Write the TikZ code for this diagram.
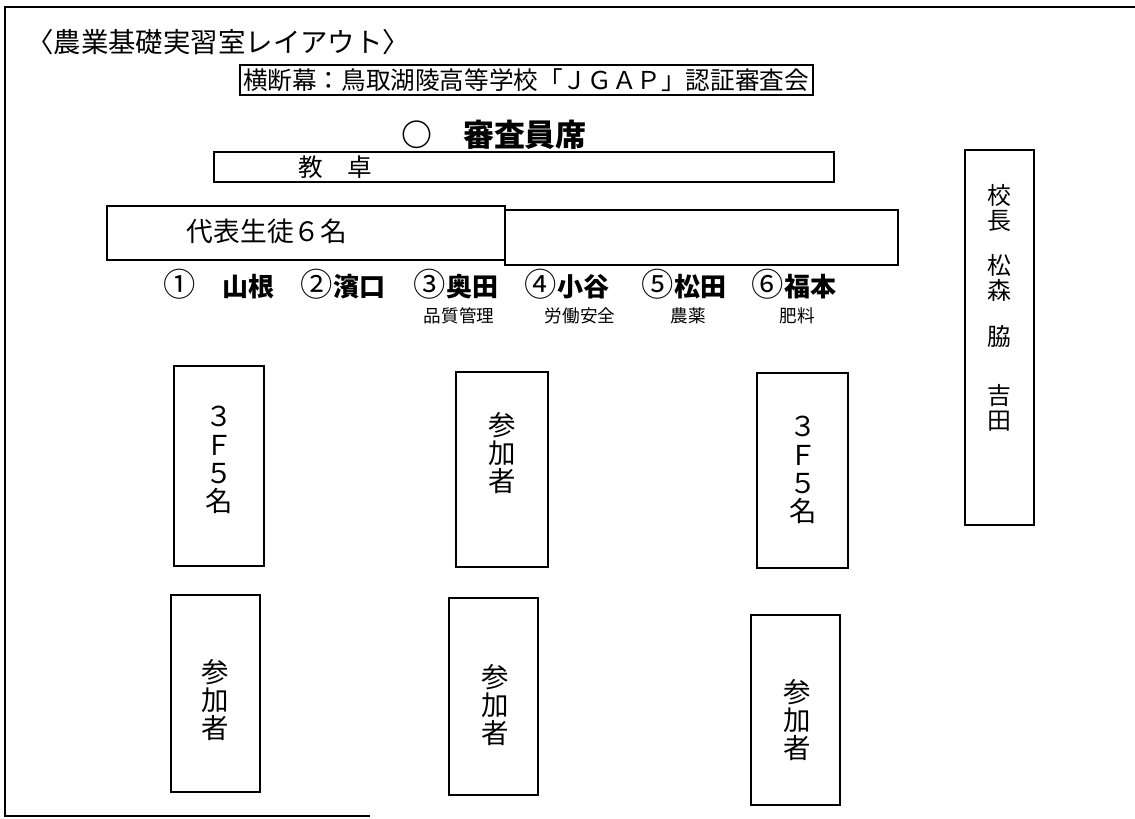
\documentclass[tikz,border=0pt]{standalone}
\usepackage{fontspec}
\setmainfont{Noto Sans CJK JP}
\newcommand{\cnum}[1]{{\mdseries\fontsize{23}{20}\selectfont #1}}
\begin{document}
\begin{tikzpicture}[x=0.025cm,y=-0.025cm,
  seatbox/.style={draw,line width=1pt},
  vtext/.style={align=center,inner sep=0pt,font=\fontsize{19.5}{20}\selectfont},
  person/.style={inner sep=0pt,font=\fontsize{18.5}{20}\selectfont\bfseries},
  role/.style={inner sep=0pt,font=\fontsize{12.5}{14}\selectfont},
  staff/.style={align=center,inner sep=0pt,font=\fontsize{17}{17.5}\selectfont}]
\useasboundingbox (0,0) rectangle (1135,818);

% room frame
\draw[line width=1.2pt] (1135,7) -- (5,7) -- (5,816) -- (370,816);

\node[anchor=west,inner sep=0pt,font=\fontsize{19.5}{20}\selectfont] (title) at (26,42) {〈農業基礎実習室レイアウト〉};

\draw[line width=0.8pt] (240,65) rectangle (813,95);
\node[inner sep=0pt,font=\fontsize{17.5}{20}\selectfont] (banner) at (526,80) {横断幕：鳥取湖陵高等学校「ＪＧＡＰ」認証審査会};

\node[inner sep=0pt,font=\fontsize{22}{24}\selectfont\bfseries] (judges) at (494,135) {○　審査員席};

\draw[seatbox] (214,152) rectangle (834,182);
\node[inner sep=0pt,font=\fontsize{17.5}{18}\selectfont] (desk) at (335,167) {教　卓};

% representatives
\draw[seatbox] (107,206) rectangle (505,260);
\draw[seatbox] (505,210) rectangle (898,265);
\node[inner sep=0pt,font=\fontsize{19}{20}\selectfont] (reps) at (267,231) {代表生徒６名};

\node[person] (n1) at (219,284) {\cnum{①}　山根};
\node[person] (n2) at (343,284) {\cnum{②}濱口};
\node[person] (n3) at (456,284) {\cnum{③}奥田};
\node[person] (n4) at (567,284) {\cnum{④}小谷};
\node[person] (n5) at (684,284) {\cnum{⑤}松田};
\node[person] (n6) at (794,284) {\cnum{⑥}福本};

\node[role] (r3) at (459,316) {品質管理};
\node[role] (r4) at (580,316) {労働安全};
\node[role] (r5) at (688,316) {農薬};
\node[role] (r6) at (797,316) {肥料};

% principal and staff
\draw[seatbox] (965,150) rectangle (1034,525);
\node[staff] (kocho) at (999,208) {校\\長};
\node[staff] (matsumori) at (999,278) {松\\森};
\node[staff] (waki) at (999,336) {脇};
\node[staff] (yoshida) at (999,408) {吉\\田};

% seats
\draw[seatbox] (174,366) rectangle (264,566);
\node[vtext] (a1) at (219,460) {３\\Ｆ\\５\\名};
\draw[seatbox] (456,372) rectangle (548,567);
\node[vtext] (b1) at (502,453) {参\\加\\者};
\draw[seatbox] (757,373) rectangle (848,568);
\node[vtext] (c1) at (803,470) {３\\Ｆ\\５\\名};

\draw[seatbox] (171,595) rectangle (260,792);
\node[vtext] (a2) at (215,700) {参\\加\\者};
\draw[seatbox] (449,598) rectangle (538,795);
\node[vtext] (b2) at (495,705) {参\\加\\者};
\draw[seatbox] (751,615) rectangle (840,805);
\node[vtext] (c2) at (797,720) {参\\加\\者};
\end{tikzpicture}
\end{document}
